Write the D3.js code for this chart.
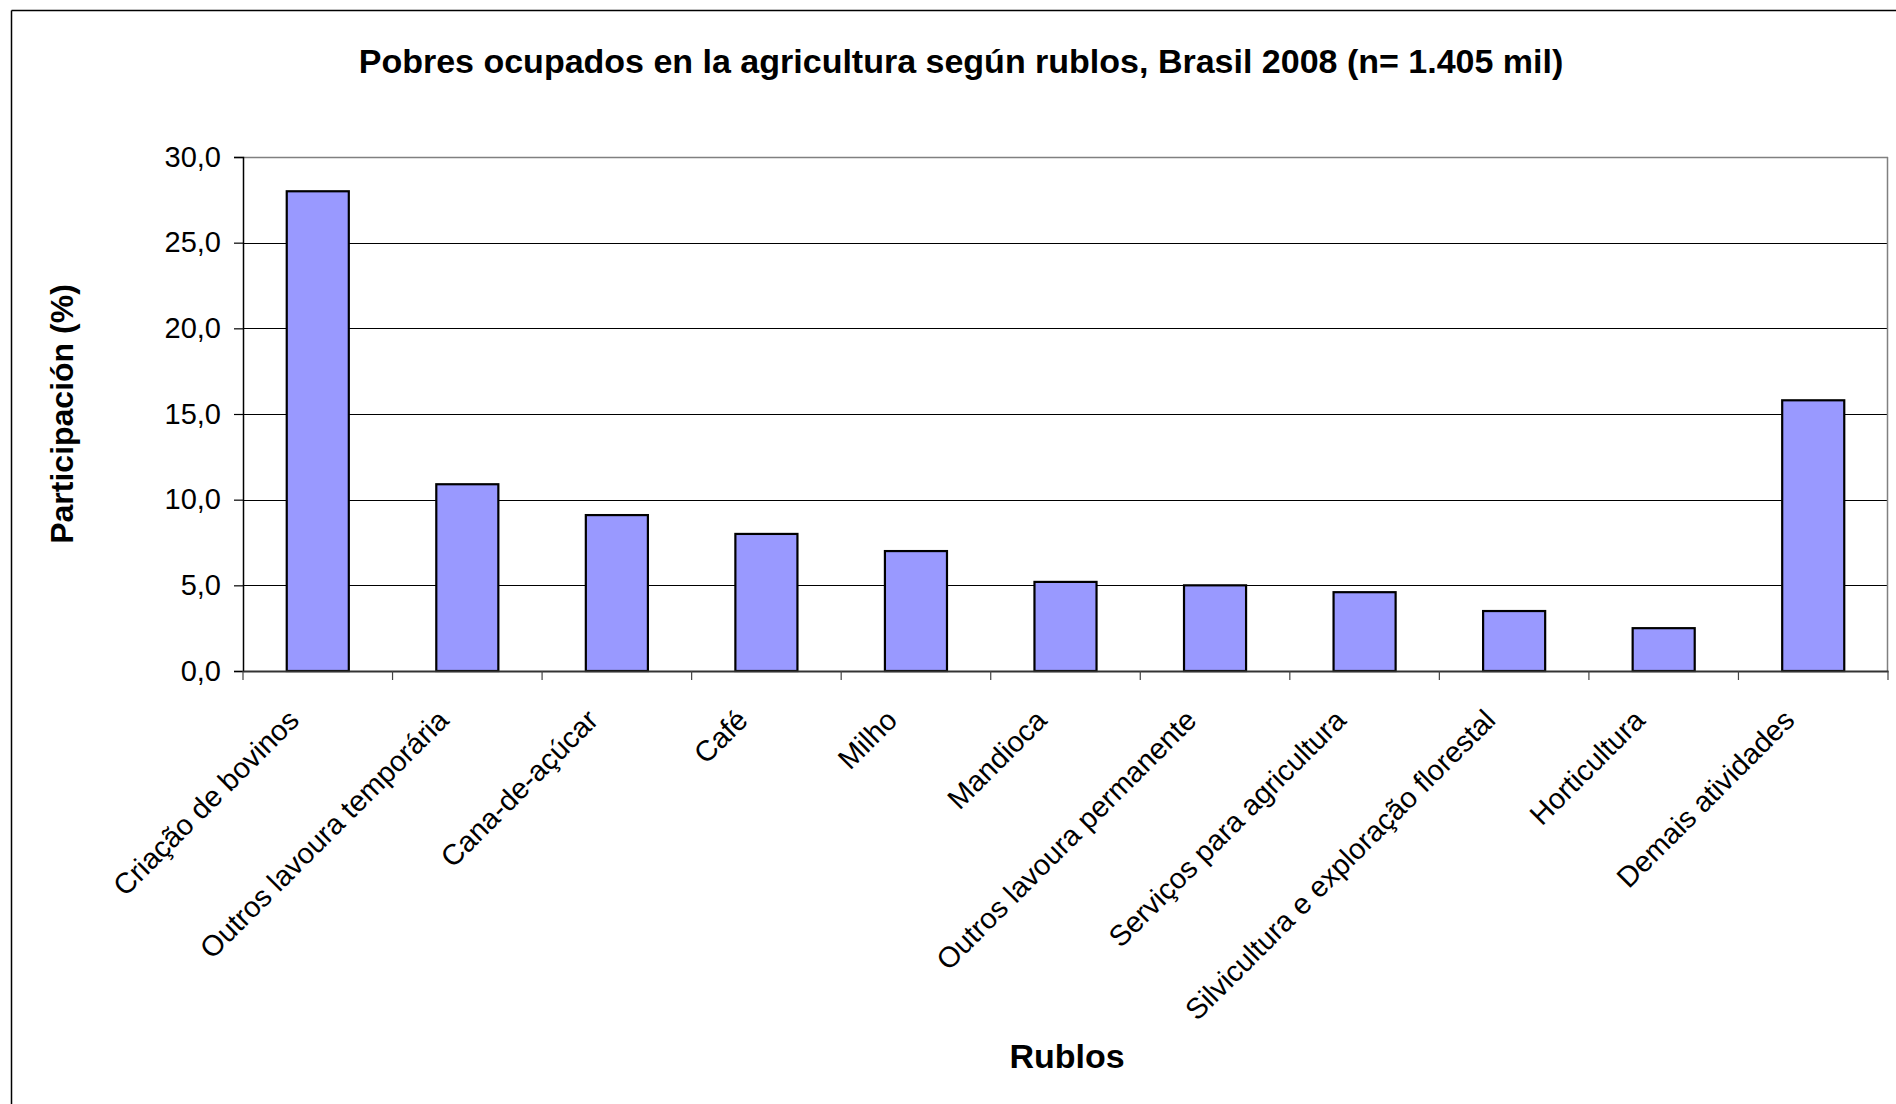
<!DOCTYPE html>
<html>
<head>
<meta charset="utf-8">
<script src="https://cdn.jsdelivr.net/npm/d3@7"></script>
<style>
  html, body { margin: 0; padding: 0; background: #fff; }
  svg { display: block; }
  text { font-family: "Liberation Sans", Arial, sans-serif; fill: #000; }
</style>
</head>
<body>
<svg id="chart" width="1896" height="1104"></svg>
<script>
const categories = [
  "Criação de bovinos",
  "Outros lavoura temporária",
  "Cana-de-açúcar",
  "Café",
  "Milho",
  "Mandioca",
  "Outros lavoura permanente",
  "Serviços para agricultura",
  "Silvicultura e exploração florestal",
  "Horticultura",
  "Demais atividades"
];
const values = [28.0, 10.9, 9.1, 8.0, 7.0, 5.2, 5.0, 4.6, 3.5, 2.5, 15.8];
const yTicks = [0, 5, 10, 15, 20, 25, 30];
const titleText = "Pobres ocupados en la agricultura según rublos, Brasil 2008 (n= 1.405 mil)";
const yTitle = "Participación (%)";
const xTitle = "Rublos";

const W = 1896, H = 1104;
const plot = { left: 243, right: 1888, top: 157, bottom: 671 };

const svg = d3.select("#chart");
const locale = d3.formatLocale({ decimal: ",", thousands: ".", grouping: [3], currency: ["", ""] });
const fmt = locale.format(".1f");

const x = d3.scaleBand().domain(categories).range([plot.left, plot.right]).paddingInner(0.585).paddingOuter(0.2925);
const xb = d3.scaleBand().domain(categories).range([plot.left, plot.right]);
const y = d3.scaleLinear().domain([0, 30]).range([plot.bottom, plot.top]);

// outer frame (only top & left visible)
svg.append("line").attr("x1", 11.5).attr("x2", W).attr("y1", 10.5).attr("y2", 10.5)
  .attr("stroke", "#000").attr("stroke-width", 1.5);
svg.append("line").attr("x1", 11.5).attr("x2", 11.5).attr("y1", 10.5).attr("y2", H)
  .attr("stroke", "#000").attr("stroke-width", 1.5);

// gridlines
svg.append("g").selectAll("line").data(yTicks.filter(d => d > 0 && d < 30)).join("line")
  .attr("x1", plot.left).attr("x2", plot.right)
  .attr("y1", d => Math.round(y(d)) + 0.5).attr("y2", d => Math.round(y(d)) + 0.5)
  .attr("stroke", "#000").attr("stroke-width", 1);

// plot border top & right (gray)
svg.append("line").attr("x1", plot.left).attr("x2", plot.right)
  .attr("y1", y(30) + 0.5).attr("y2", y(30) + 0.5).attr("stroke", "#808080").attr("stroke-width", 1.5);
svg.append("line").attr("x1", plot.right - 0.5).attr("x2", plot.right - 0.5)
  .attr("y1", y(30)).attr("y2", plot.bottom).attr("stroke", "#808080").attr("stroke-width", 1.5);

// bars
svg.append("g").selectAll("rect").data(values).join("rect")
  .attr("x", (d, i) => x(categories[i]))
  .attr("width", x.bandwidth())
  .attr("y", d => y(d))
  .attr("height", d => y(0) - y(d))
  .attr("fill", "#9999FF")
  .attr("stroke", "#000")
  .attr("stroke-width", 2.2);

// y axis
const yAxis = d3.axisLeft(y).tickValues(yTicks).tickSize(9).tickPadding(13).tickFormat(fmt);
const gy = svg.append("g").attr("transform", `translate(${plot.left},0)`).call(yAxis);
gy.select(".domain").attr("stroke", "#000").attr("stroke-width", 1.5);
gy.selectAll(".tick line").attr("stroke", "#000").attr("stroke-width", 1.2);
gy.selectAll(".tick text").attr("font-size", 29).attr("font-family", "Liberation Sans, Arial, sans-serif").attr("fill", "#000");

// x axis
const xAxis = d3.axisBottom(xb).tickSize(0).tickFormat("");
const gx = svg.append("g").attr("transform", `translate(0,${plot.bottom})`).call(xAxis);
gx.select(".domain").attr("stroke", "#333").attr("stroke-width", 2);
const boundaries = categories.map(c => xb(c)).concat([xb(categories[categories.length - 1]) + xb.bandwidth()]);
svg.append("g").selectAll("line").data(boundaries).join("line")
  .attr("x1", d => d).attr("x2", d => d)
  .attr("y1", plot.bottom).attr("y2", plot.bottom + 9)
  .attr("stroke", "#444").attr("stroke-width", 1.2);

// x labels
svg.append("g").selectAll("text").data(categories).join("text")
  .attr("transform", d => `translate(${xb(d) + xb.bandwidth() / 2 - 17},${plot.bottom + 51}) rotate(-45)`)
  .attr("text-anchor", "end")
  .attr("font-size", 29)
  .text(d => d);

// titles
svg.append("text").attr("x", 961).attr("y", 73).attr("text-anchor", "middle")
  .attr("font-size", 34).attr("font-weight", "bold").text(titleText);
svg.append("text").attr("transform", `translate(73,${(plot.top + plot.bottom) / 2}) rotate(-90)`)
  .attr("text-anchor", "middle").attr("font-size", 32).attr("font-weight", "bold").text(yTitle);
svg.append("text").attr("x", 1067).attr("y", 1068).attr("text-anchor", "middle")
  .attr("font-size", 34).attr("font-weight", "bold").text(xTitle);
</script>
</body>
</html>
